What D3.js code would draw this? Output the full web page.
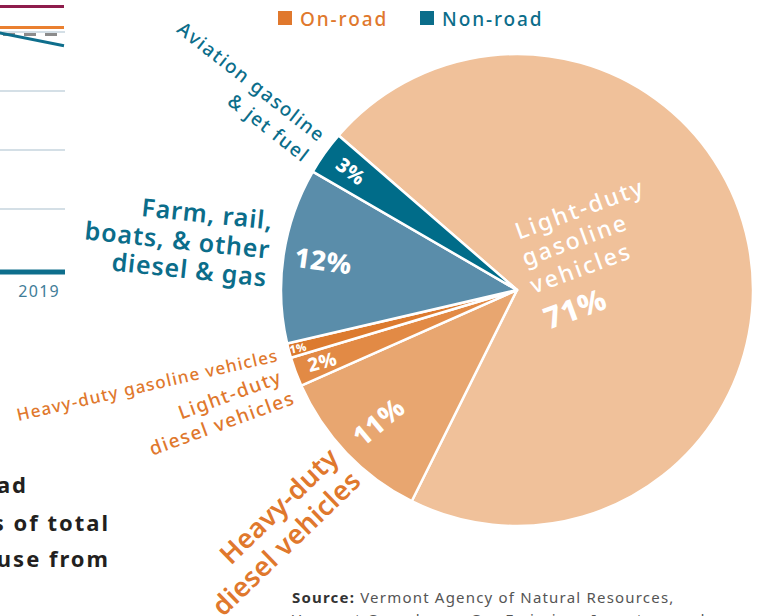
<!DOCTYPE html>
<html>
<head>
<meta charset="utf-8">
<script src="https://cdn.jsdelivr.net/npm/d3@7"></script>
<style>
  html, body { margin: 0; padding: 0; background: #fff; }
  svg { display: block; font-family: "Noto Sans", "Open Sans", sans-serif; }
</style>
</head>
<body>
<svg id="chart" width="761" height="616"></svg>
<script>
// pie data, clockwise from the top-left edge of the big slice
const categories = [
  "Light-duty gasoline vehicles",
  "Heavy-duty diesel vehicles",
  "Light-duty diesel vehicles",
  "Heavy-duty gasoline vehicles",
  "Farm, rail, boats, & other diesel & gas",
  "Aviation gasoline & jet fuel"
];
const shares = [71, 11, 2, 1, 12, 3];
const sectors = ["On-road", "On-road", "On-road", "On-road", "Non-road", "Non-road"];
const pctLabels = ["71%", "11%", "2%", "1%", "12%", "3%"];
const legendItems = ["On-road", "Non-road"];

// cropped line chart on the left edge (only its last stretch is visible)
const lineYears = [2018, 2019];
const lineSeries = [
  { name: "a", values: [110.8, 110.8] },
  { name: "b", values: [101.9, 101.9] },
  { name: "c", values: [98.9, 98.9] },
  { name: "d", values: [100.4, 94.2] }
];
const gridValues = [25, 50, 75, 100];
const axisTicks = ["2019"];

const sliceColors = ["#f0c19a", "#e8a670", "#e28a45", "#dc7a2e", "#5a8daa", "#006c89"];
const sectorColor = { "On-road": "#e0782d", "Non-road": "#0b6d8a" };
const lineColors = ["#8e1c4c", "#ea8030", "#8c8c8c", "#0e6e8c"];

const svg = d3.select("#chart");
const cx = 517, cy = 290, radius = 236;

// ---- left partial line chart
const x = d3.scaleLinear().domain(lineYears).range([-10, 64]);
const y = d3.scaleLinear().domain([0, 100]).range([268, 32]);

svg.append("g")
  .selectAll("line")
  .data(gridValues)
  .join("line")
  .attr("x1", 0).attr("x2", 65)
  .attr("y1", d => y(d)).attr("y2", d => y(d))
  .attr("stroke", "#a9bfcd")
  .attr("stroke-width", 1.2);

const line = d3.line()
  .x((d, i) => x(lineYears[i]))
  .y(d => y(d));

svg.append("g")
  .selectAll("path")
  .data(lineSeries)
  .join("path")
  .attr("d", d => line(d.values))
  .attr("fill", "none")
  .attr("stroke", (d, i) => lineColors[i])
  .attr("stroke-width", 3)
  .attr("stroke-dasharray", d => d.name == "c" ? "12,9" : null)
  .attr("stroke-dashoffset", d => d.name == "c" ? 8 : null);

svg.append("line")
  .attr("x1", 0).attr("x2", 65)
  .attr("y1", 272).attr("y2", 272)
  .attr("stroke", "#0e6e8c")
  .attr("stroke-width", 5);

svg.append("text")
  .attr("x", x(2019) - 4).attr("y", 297)
  .attr("text-anchor", "end")
  .attr("fill", "#3f7d98")
  .style("font-size", "16px")
  .style("letter-spacing", "0.08em")
  .text(axisTicks[0]);

// ---- cropped headline text bottom-left
const headLines = [
  { t: "ad", x: 28, y: 493 },
  { t: "s of total", x: 110, y: 531 },
  { t: "use from", x: 110, y: 567 }
];
svg.append("g")
  .selectAll("text")
  .data(headLines)
  .join("text")
  .attr("x", d => d.x).attr("y", d => d.y)
  .attr("text-anchor", "end")
  .attr("fill", "#231f20")
  .style("font-size", "22px")
  .style("font-weight", 700)
  .style("letter-spacing", "0.09em")
  .text(d => d.t);

// ---- legend
const legend = svg.append("g").attr("transform", "translate(278,11)");
const legItem = legend.selectAll("g")
  .data(legendItems)
  .join("g")
  .attr("transform", (d, i) => "translate(" + i * 142 + ",0)");
legItem.append("rect")
  .attr("width", 14).attr("height", 14)
  .attr("fill", d => sectorColor[d]);
legItem.append("text")
  .attr("x", 22).attr("y", 14.5)
  .attr("fill", d => sectorColor[d])
  .style("font-size", "19px")
  .style("font-weight", 500)
  .style("letter-spacing", "0.1em")
  .text(d => d);

// ---- pie
const start = -49.1 * Math.PI / 180;
const pie = d3.pie().sort(null).startAngle(start).endAngle(start + 2 * Math.PI);
const arcs = pie(shares);
const arc = d3.arc().innerRadius(0).outerRadius(radius);

const g = svg.append("g").attr("transform", "translate(" + cx + "," + cy + ")");
g.selectAll("path")
  .data(arcs)
  .join("path")
  .attr("d", arc)
  .attr("fill", (d, i) => sliceColors[i])
  .attr("stroke", "#fff")
  .attr("stroke-width", 2.5)
  .attr("stroke-linejoin", "round");

// percent labels inside the small slices: radius fraction, rotation, size
const pctStyle = [
  null,
  { r: 0.81, rot: -40, size: 27 },
  { r: 0.88, rot: -15, size: 19 },
  { r: 0.96, rot: -12, size: 11 },
  { r: 0.83, rot: 8, size: 27 },
  { r: 0.865, rot: 38, size: 20 }
];
arcs.forEach(function (a, i) {
  const s = pctStyle[i];
  if (!s) return;
  const mid = (a.startAngle + a.endAngle) / 2;
  const px = Math.sin(mid) * radius * s.r;
  const py = -Math.cos(mid) * radius * s.r;
  g.append("text")
    .attr("transform", "translate(" + px + "," + py + ") rotate(" + s.rot + ")")
    .attr("text-anchor", "middle")
    .attr("dy", "0.35em")
    .attr("fill", "#fff")
    .style("font-size", s.size + "px")
    .style("font-weight", 800)
    .style("letter-spacing", "0.02em")
    .text(pctLabels[i]);
});

// text on the big slice
const bigLines = [
  { t: "Light-duty", x: 580, y: 209, size: 23, w: 500, ls: "0.1em" },
  { t: "gasoline", x: 575, y: 240, size: 23, w: 500, ls: "0.1em" },
  { t: "vehicles", x: 581, y: 268, size: 23, w: 500, ls: "0.1em" },
  { t: pctLabels[0], x: 575, y: 309, size: 30, w: 800, ls: "0.02em" }
];
svg.append("g")
  .selectAll("text")
  .data(bigLines)
  .join("text")
  .attr("transform", d => "translate(" + d.x + "," + d.y + ") rotate(-20)")
  .attr("text-anchor", "middle")
  .attr("dy", "0.35em")
  .attr("fill", "#fff")
  .style("font-size", d => d.size + "px")
  .style("font-weight", d => d.w)
  .style("letter-spacing", d => d.ls)
  .text(d => d.t);

// outside category labels, split in lines
const outLabels = [
  { cat: 5, lines: ["Aviation gasoline", "& jet fuel"], pos: [[323, 138], [307, 158]], rot: 38, size: 19, w: 500, ls: "0.08em" },
  { cat: 4, lines: ["Farm, rail,", "boats, & other", "diesel & gas"], pos: [[273, 221], [270, 250], [267, 278]], rot: 6, size: 25, w: 600, ls: "0.035em" },
  { cat: 3, lines: ["Heavy-duty gasoline vehicles"], pos: [[278, 355]], rot: -13, size: 17, w: 500, ls: "0.07em" },
  { cat: 2, lines: ["Light-duty", "diesel vehicles"], pos: [[281, 376], [294, 397]], rot: -20, size: 19, w: 500, ls: "0.08em" },
  { cat: 1, lines: ["Heavy-duty", "diesel vehicles"], pos: [[334, 453], [356, 476]], rot: -44, size: 27, w: 600, ls: "0.01em" }
];
outLabels.forEach(function (lab) {
  lab.lines.forEach(function (t, j) {
    svg.append("text")
      .attr("transform", "translate(" + lab.pos[j][0] + "," + lab.pos[j][1] + ") rotate(" + lab.rot + ")")
      .attr("text-anchor", "end")
      .attr("dy", "0.35em")
      .attr("fill", sectorColor[sectors[lab.cat]])
      .style("font-size", lab.size + "px")
      .style("font-weight", lab.w)
      .style("letter-spacing", lab.ls)
      .text(t);
  });
});

// ---- source note
const src = svg.append("text")
  .attr("x", 292).attr("y", 603)
  .attr("fill", "#555")
  .style("font-size", "15px")
  .style("letter-spacing", "0.08em");
src.append("tspan").style("font-weight", 700).attr("fill", "#333").text("Source:");
src.append("tspan").text(" Vermont Agency of Natural Resources,");
svg.append("text")
  .attr("x", 292).attr("y", 625)
  .attr("fill", "#555")
  .style("font-size", "15px")
  .style("letter-spacing", "0.08em")
  .text("Vermont Greenhouse Gas Emissions Inventory and");
</script>
</body>
</html>
